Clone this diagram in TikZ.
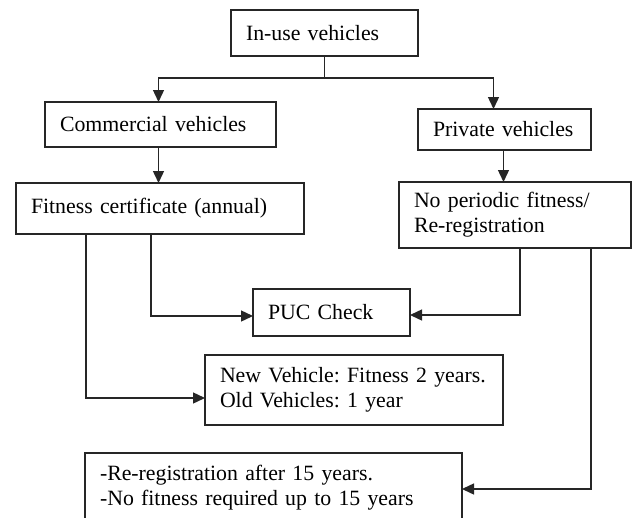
\documentclass[tikz,border=0pt]{standalone}
\usepackage{fontspec}
\setmainfont{Liberation Serif}
\usetikzlibrary{arrows.meta}
\begin{document}
\begin{tikzpicture}[x=1pt,y=-1pt,
  box/.style={draw=black!85, line width=1.4pt, anchor=north west, inner xsep=15pt, inner ysep=0pt, outer sep=0pt, align=left, font=\fontsize{21.8pt}{25pt}\selectfont\frenchspacing},
  conn/.style={draw=black!85, line width=1.4pt},
  arr/.style={conn, -{Triangle[length=12pt,width=11pt]}}]
\path[use as bounding box] (0,0) rectangle (632,517);
\clip (0,0) rectangle (632,517);
\node[box, text width=157pt, minimum height=46pt] (inuse) at (231,10) {In-use vehicles};
\node[box, text width=201pt, minimum height=45pt] (comm) at (45,102) {Commercial vehicles};
\node[box, text width=143pt, minimum height=41pt] (priv) at (418,109) {Private vehicles};
\node[box, text width=258pt, minimum height=51pt] (fit) at (16,183) {Fitness certificate (annual)};
\node[box, text width=202pt, minimum height=66pt] (nop) at (399,182) {No periodic fitness/\\Re-registration};
\node[box, text width=127pt, minimum height=47pt] (puc) at (253,289) {PUC Check};
\node[box, text width=268pt, minimum height=70pt] (new) at (205,355) {New Vehicle: Fitness 2 years.\\Old Vehicles: 1 year};
\node[box, text width=347pt, minimum height=69pt] (bot) at (85,453) {-Re-registration after 15 years.\\-No fitness required up to 15 years};
% connectors
\draw[conn] (inuse.south) -- ++(0,22) coordinate (split);
\draw[arr] (split) -| ([xshift=-2pt]comm.north);
\draw[arr] (split) -| ([xshift=-11pt]priv.north);
\draw[arr] ([xshift=-2pt]comm.south) -- ([xshift=-2pt]comm.south |- fit.north);
\draw[arr] ([xshift=-1pt]priv.south) -- ([xshift=-1pt]priv.south |- nop.north);
\draw[arr] ([xshift=135pt]fit.south west) |- ([yshift=-3.5pt]puc.west);
\draw[arr] ([xshift=121pt]nop.south west) |- ([yshift=-2.5pt]puc.east);
\draw[arr] ([xshift=70pt]fit.south west) |- ([yshift=-8pt]new.west);
\draw[arr] ([xshift=192pt]nop.south west) |- ([yshift=-1.5pt]bot.east);
\end{tikzpicture}
\end{document}
